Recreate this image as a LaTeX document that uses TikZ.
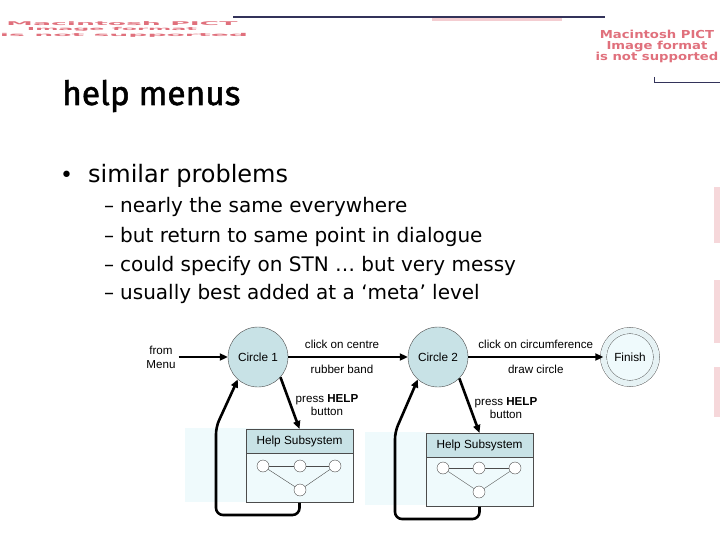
\documentclass[tikz,border=0pt]{standalone}
\usepackage{fontspec}
\usepackage{graphicx}
\setmainfont{DejaVu Sans}
\newfontfamily\arialfont{Liberation Sans}
\newfontfamily\titlefont[FakeBold=1.6]{Fira Sans}
\usetikzlibrary{arrows.meta}
\definecolor{stateblue}{HTML}{C8E2E6}
\definecolor{paleblue}{HTML}{EFFAFC}
\definecolor{pictred}{HTML}{E0707C}
\definecolor{navyline}{HTML}{33335A}

\begin{document}
\begin{tikzpicture}[x=1pt, y=-1pt,
  state/.style={circle, draw=black!70, fill=stateblue, minimum size=60pt, inner sep=0pt,
    font=\arialfont\fontsize{11.8}{12}\selectfont},
  trans/.style={line width=2.6pt, -{Triangle[length=8pt,width=7pt]}},
  lab/.style={font=\arialfont\fontsize{11.6}{13.8}\selectfont, align=center, inner sep=0pt},
  dot/.style={circle, draw=black!70, fill=white, minimum size=12pt, inner sep=0pt},
  helphead/.style={draw=black!70, fill=stateblue, minimum width=107pt, minimum height=24pt,
    inner sep=0pt, anchor=north, font=\arialfont\fontsize{11.8}{12}\selectfont},
  helpbody/.style={draw=black!70, fill=paleblue, minimum width=107pt, minimum height=49pt,
    inner sep=0pt, anchor=north}]
  \useasboundingbox (0,0) rectangle (720,540);
  % broken picture remains at the top
  \draw[navyline, line width=1.5pt] (233,17) -- (605,17);
  \fill[pictred!35] (432,18.5) rectangle (562,21);
  \node[text=pictred, inner sep=0pt] (junk1) at (122,24) {\resizebox*{231pt}{4pt}{\bfseries Macintosh PICT}};
  \node[text=pictred, inner sep=0pt] (junk2) at (112,29.5) {\resizebox*{170pt}{4pt}{\bfseries Image format}};
  \node[text=pictred, inner sep=0pt] (junk3) at (124,35) {\resizebox*{248pt}{4pt}{\bfseries is not supported}};
  \node[text=pictred, inner sep=0pt, align=center,
    font=\bfseries\fontsize{11}{10.8}\selectfont] (pict) at (657,46.5)
    {\scalebox{1.2}[1]{Macintosh PICT}\\\scalebox{1.2}[1]{Image format}\\\scalebox{1.2}[1]{is not supported}};
  \draw[navyline, line width=1pt] (654,77) -- (654,83) -- (720,83);
  \fill[pictred!28] (714,187) rectangle (720,243);
  \fill[pictred!28] (714,280) rectangle (720,343);
  \fill[pictred!28] (714,367) rectangle (720,417);

  % heading and points
  \node[anchor=base west, inner sep=0pt, font=\titlefont\fontsize{33.5}{36}\selectfont] (title) at (62,105) {help menus};
  \node[anchor=base west, inner sep=0pt, font=\fontsize{22}{26}\selectfont] (b0) at (60,183) {•};
  \node[anchor=base west, inner sep=0pt, font=\fontsize{24}{26}\selectfont] (p0) at (88,183) {similar problems};
  \node[anchor=base west, inner sep=0pt, font=\fontsize{20}{22}\selectfont] (d1) at (104,213) {–};
  \node[anchor=base west, inner sep=0pt, font=\fontsize{20}{22}\selectfont] (p1) at (120,213) {nearly the same everywhere};
  \node[anchor=base west, inner sep=0pt, font=\fontsize{20}{22}\selectfont] (d2) at (104,242) {–};
  \node[anchor=base west, inner sep=0pt, font=\fontsize{20}{22}\selectfont] (p2) at (120,242) {but return to same point in dialogue};
  \node[anchor=base west, inner sep=0pt, font=\fontsize{20}{22}\selectfont] (d3) at (104,271) {–};
  \node[anchor=base west, inner sep=0pt, font=\fontsize{20}{22}\selectfont] (p3) at (120,271) {could specify on STN … but very messy};
  \node[anchor=base west, inner sep=0pt, font=\fontsize{20}{22}\selectfont] (d4) at (104,299) {–};
  \node[anchor=base west, inner sep=0pt, font=\fontsize{20}{22}\selectfont] (p4) at (120,299) {usually best added at a ‘meta’ level};

  % pale backdrops
  \fill[paleblue] (185,428) rectangle (353,502);
  \fill[paleblue] (365,432) rectangle (426,505);

  % states
  \node[lab, inner sep=3pt] (from) at (161,357) {from\\Menu};
  \node[state] (c1) at (258,357) {Circle 1};
  \node[state] (c2) at (438,357) {Circle 2};
  \node[state, fill=paleblue, double=stateblue!45, double distance=5.8pt, minimum size=53pt] (fin) at (630,357) {Finish};

  % help boxes
  \node[helphead] (h1) at (299.5,429) {Help Subsystem};
  \node[helpbody] (b1) at (h1.south) {};
  \node[helphead] (h2) at (479.5,433) {Help Subsystem};
  \node[helpbody] (b2) at (h2.south) {};
  \node[dot] (g11) at (263,466) {};
  \node[dot] (g12) at (300,466) {};
  \node[dot] (g13) at (335,466) {};
  \node[dot] (g14) at (300,490) {};
  \draw[black!70] (g11) -- (g12) -- (g13);
  \draw[black!70] (g11) -- (g14) -- (g13);
  \node[dot] (g21) at (443,468) {};
  \node[dot] (g22) at (479,468) {};
  \node[dot] (g23) at (515,468) {};
  \node[dot] (g24) at (479,492) {};
  \draw[black!70] (g21) -- (g22) -- (g23);
  \draw[black!70] (g21) -- (g24) -- (g23);

  % transitions
  \draw[trans] (from) -- (c1);
  \draw[trans] (c1) -- node[lab, pos=0.45, above=7pt] (t1a) {click on centre}
    node[lab, pos=0.45, below=7pt] (t1b) {rubber band} (c2);
  \draw[trans] (c2) -- node[lab, above=7pt] (t2a) {click on circumference}
    node[lab, below=7pt] (t2b) {draw circle} (fin);
  \draw[trans] (c1.-42) -- (h1.north);
  \node[lab] (k1) at (327,405) {press \textbf{HELP}\\button};
  \draw[trans] (c2.-45) -- (h2.north);
  \node[lab] (k2) at (506,408) {press \textbf{HELP}\\button};
  % way back
  \draw[trans, rounded corners=7pt] (b1.south) -- (299.5,515) -- (216,515) -- (216,427) -- (c1.228);
  \draw[trans, rounded corners=7pt] (b2.south) -- (479.5,519) -- (395,519) -- (395,432) -- (c2.228);
\end{tikzpicture}
\end{document}
